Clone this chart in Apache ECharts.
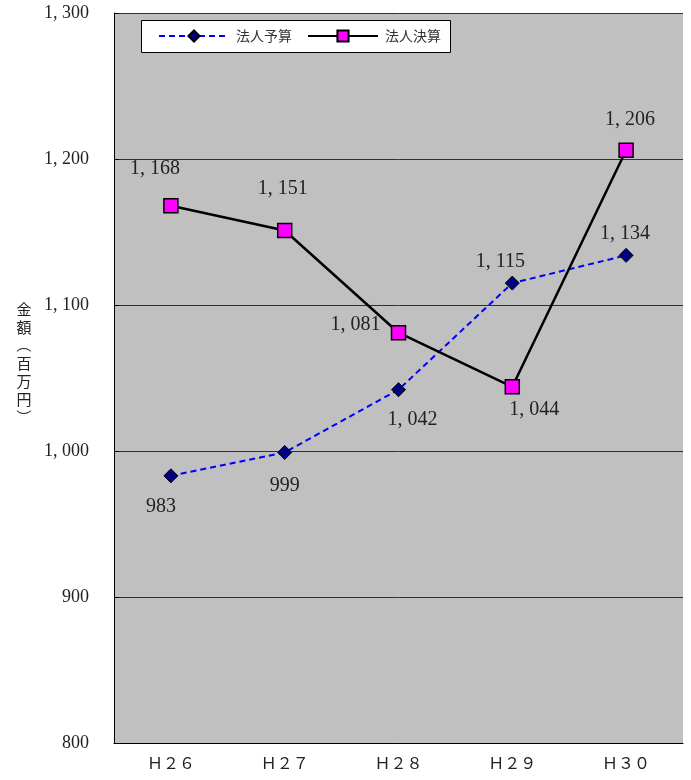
<!DOCTYPE html>
<html><head><meta charset="utf-8">
<script src="https://cdn.jsdelivr.net/npm/echarts@6/dist/echarts.min.js"></script>
<style>html,body{margin:0;padding:0;background:#fff}#c{width:691px;height:780px}</style>
</head><body><div id="c"></div>
<script>
const categories = ['Ｈ２６', 'Ｈ２７', 'Ｈ２８', 'Ｈ２９', 'Ｈ３０'];
const budget = [983, 999, 1042, 1115, 1134];
const settlement = [1168, 1151, 1081, 1044, 1206];
const seriesNames = ['法人予算', '法人決算'];
const yTicks = [800, 900, 1000, 1100, 1200, 1300];
const axisTitle = '金額（百万円）';

const budgetLabelOffsets = [[-10, 31], [0, 33], [14, 30], [-12, -21], [-1, -22]];
const settleLabelOffsets = [[-16, -37], [-2, -42], [-43, -8], [22, 23], [4, -30]];

const fmt = v => { const s = String(v); return s.length > 3 ? s.slice(0, s.length - 3) + ', ' + s.slice(-3) : s; };
const serif = '"Liberation Serif", "DejaVu Serif", serif';
const cjk = '"Noto Sans CJK JP", sans-serif';

function withLabels(vals, offs) {
  return vals.map((v, i) => ({ value: v, label: { offset: offs[i] } }));
}

const chart = echarts.init(document.getElementById('c'));

const titleChars = Array.from(axisTitle);
const graphicEls = titleChars.map((ch, i) => {
  const rot = (ch === '（' || ch === '）');
  return {
    type: 'text', x: 24, y: 309 + i * 18, rotation: rot ? -Math.PI / 2 : 0,
    style: { text: ch, font: '15px ' + cjk, fill: '#222', align: 'center', verticalAlign: 'middle' }
  };
});
graphicEls.push({ type: 'rect', shape: { x: 141.5, y: 20.5, width: 309, height: 32 }, style: { fill: '#fff', stroke: '#000', lineWidth: 1 }, z: 0 });

chart.setOption({
  animation: false,
  backgroundColor: '#fff',
  grid: { left: 114, right: 8, top: 13, bottom: 37, show: true, backgroundColor: '#C0C0C0', borderWidth: 0 },
  legend: {
    left: 141, top: 20, padding: [9, 7, 9, 17],
    itemWidth: 70, itemHeight: 14, itemGap: 15,
    textStyle: { fontFamily: cjk, fontSize: 14, color: '#333', padding: [0, 0, 0, 2] },
    data: seriesNames, z: 10
  },
  graphic: graphicEls,
  xAxis: {
    type: 'category', data: categories, boundaryGap: true,
    axisLine: { lineStyle: { color: '#000', width: 1 } },
    axisTick: { inside: true, length: 5, lineStyle: { color: '#000' } },
    axisLabel: { fontFamily: cjk, fontSize: 16, color: '#222', margin: 12 },
    splitLine: { show: false }
  },
  yAxis: {
    type: 'value', min: yTicks[0], max: yTicks[yTicks.length - 1], interval: 100,
    axisLine: { show: true, lineStyle: { color: '#000', width: 1 } },
    axisTick: { show: true, inside: true, length: 5, lineStyle: { color: '#000' } },
    axisLabel: { fontFamily: serif, fontSize: 18, color: '#222', margin: 25, formatter: v => fmt(v) },
    splitLine: { show: true, lineStyle: { color: '#303030', width: 1 } }
  },
  series: [
    {
      name: seriesNames[0], type: 'line', data: withLabels(budget, budgetLabelOffsets),
      symbol: 'diamond', symbolSize: 14,
      lineStyle: { color: '#0000FF', width: 2, type: [6, 4] },
      itemStyle: { color: '#000080', borderColor: '#000', borderWidth: 1 },
      label: { show: true, position: 'inside', fontFamily: serif, fontSize: 20, color: '#222', formatter: p => fmt(p.value) },
      z: 3
    },
    {
      name: seriesNames[1], type: 'line', data: withLabels(settlement, settleLabelOffsets),
      symbol: 'rect', symbolSize: 14,
      lineStyle: { color: '#000', width: 2.5 },
      itemStyle: { color: '#FF00FF', borderColor: '#000', borderWidth: 1.5 },
      label: { show: true, position: 'inside', fontFamily: serif, fontSize: 20, color: '#222', formatter: p => fmt(p.value) },
      z: 4
    }
  ]
});
</script></body></html>
